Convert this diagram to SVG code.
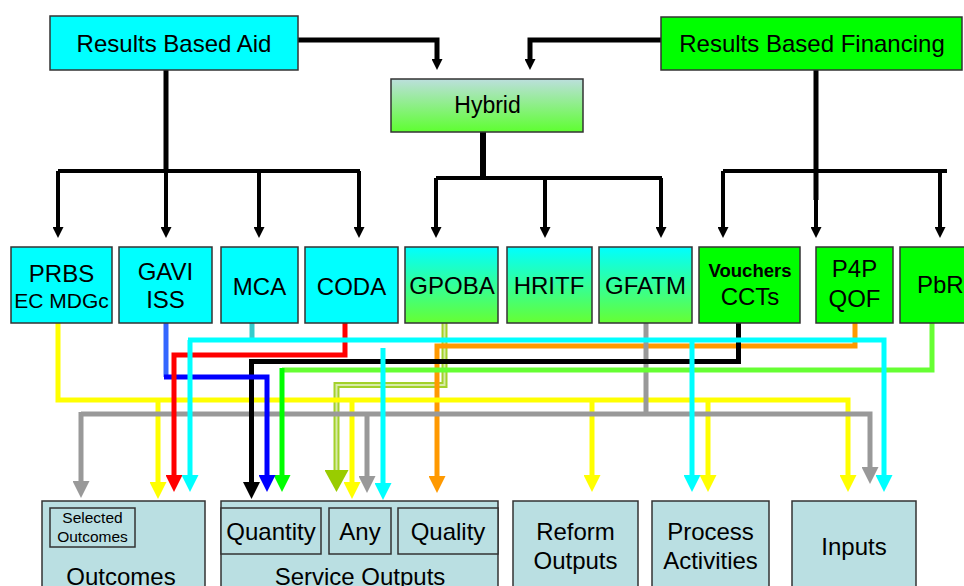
<svg xmlns="http://www.w3.org/2000/svg" width="964" height="586" viewBox="0 0 964 586">
<style>
text{font-family:"Liberation Sans",Arial,sans-serif;fill:#000;text-anchor:middle}
.t24{font-size:24px}
.t23{font-size:23px}
.box{stroke:#333;stroke-width:1.5}
.cy{fill:#00FFFF}
.gr{fill:#00FF00}
.lb{fill:#BADFE2}
.k{fill:none;stroke:#000}
.c{fill:none;stroke-width:5}
</style>
<defs>
<linearGradient id="gHyb" x1="0" y1="0" x2="0" y2="1"><stop offset="0" stop-color="#BCDFDD"/><stop offset="1" stop-color="#5EFF30"/></linearGradient>
<linearGradient id="gCG" x1="0" y1="0" x2="0" y2="1"><stop offset="0" stop-color="#00FFFF"/><stop offset="1" stop-color="#66FF33"/></linearGradient>
<marker id="mk" markerUnits="userSpaceOnUse" viewBox="0 0 11 11" markerWidth="11" markerHeight="11" refX="0" refY="5.5" orient="auto"><path d="M0,0L11,5.5L0,11z" fill="#000"/></marker>
<marker id="my" markerUnits="userSpaceOnUse" viewBox="0 0 17 17" markerWidth="17" markerHeight="17" refX="0" refY="8.5" orient="auto"><path d="M0,0L17,8.5L0,17z" fill="#FFFF00"/></marker>
<marker id="mg" markerUnits="userSpaceOnUse" viewBox="0 0 17 17" markerWidth="17" markerHeight="17" refX="0" refY="8.5" orient="auto"><path d="M0,0L17,8.5L0,17z" fill="#999999"/></marker>
<marker id="mc" markerUnits="userSpaceOnUse" viewBox="0 0 17 17" markerWidth="17" markerHeight="17" refX="0" refY="8.5" orient="auto"><path d="M0,0L17,8.5L0,17z" fill="#00FFFF"/></marker>
<marker id="mr" markerUnits="userSpaceOnUse" viewBox="0 0 17 17" markerWidth="17" markerHeight="17" refX="0" refY="8.5" orient="auto"><path d="M0,0L17,8.5L0,17z" fill="#FF0000"/></marker>
<marker id="mb" markerUnits="userSpaceOnUse" viewBox="0 0 17 17" markerWidth="17" markerHeight="17" refX="0" refY="8.5" orient="auto"><path d="M0,0L17,8.5L0,17z" fill="#0000FF"/></marker>
<marker id="mbk" markerUnits="userSpaceOnUse" viewBox="0 0 17 17" markerWidth="17" markerHeight="17" refX="0" refY="8.5" orient="auto"><path d="M0,0L17,8.5L0,17z" fill="#000"/></marker>
<marker id="mgn" markerUnits="userSpaceOnUse" viewBox="0 0 17 17" markerWidth="17" markerHeight="17" refX="0" refY="8.5" orient="auto"><path d="M0,0L17,8.5L0,17z" fill="#00FF00"/></marker>
<marker id="mo" markerUnits="userSpaceOnUse" viewBox="0 0 17 17" markerWidth="17" markerHeight="17" refX="0" refY="8.5" orient="auto"><path d="M0,0L17,8.5L0,17z" fill="#FF9900"/></marker>
<marker id="mol" markerUnits="userSpaceOnUse" viewBox="0 0 22 24" markerWidth="22" markerHeight="24" refX="0" refY="12" orient="auto"><path d="M0,0L22,12L0,24z" fill="#99CC00"/></marker>
</defs>

<g id="connectors">
  <!-- top black -->
  <path class="k" stroke-width="5" d="M298,40H437V59" marker-end="url(#mk)"/>
  <path class="k" stroke-width="5" d="M661,40H530V59" marker-end="url(#mk)"/>
  <path class="k" stroke-width="5" d="M166,70V171"/>
  <path class="k" stroke-width="4" d="M58,171H360"/>
  <path class="k" stroke-width="4" d="M58,171V227" marker-end="url(#mk)"/>
  <path class="k" stroke-width="4" d="M166,171V227" marker-end="url(#mk)"/>
  <path class="k" stroke-width="4" d="M259,171V227" marker-end="url(#mk)"/>
  <path class="k" stroke-width="4" d="M359,171V227" marker-end="url(#mk)"/>
  <path class="k" stroke-width="6" d="M483,132V178"/>
  <path class="k" stroke-width="4" d="M436,178H662"/>
  <path class="k" stroke-width="4" d="M436,178V227" marker-end="url(#mk)"/>
  <path class="k" stroke-width="4" d="M545,178V227" marker-end="url(#mk)"/>
  <path class="k" stroke-width="4" d="M661,178V227" marker-end="url(#mk)"/>
  <path class="k" stroke-width="5" d="M816,70V200"/>
  <path class="k" stroke-width="4" d="M723,171H947"/>
  <path class="k" stroke-width="4" d="M723,171V227" marker-end="url(#mk)"/>
  <path class="k" stroke-width="4" d="M816,199V227" marker-end="url(#mk)"/>
  <path class="k" stroke-width="4" d="M940,171V227" marker-end="url(#mk)"/>

  <!-- olive (GPOBA) double line -->
  <path fill="none" stroke="#A3D12A" stroke-width="6" d="M444.5,323V385H336.5V470" marker-end="url(#mol)"/>
  <path fill="none" stroke="#D8EBA6" stroke-width="2" d="M444.5,323V385H336.5V470"/>
  <!-- orange (P4P) -->
  <path class="c" stroke="#FF9900" d="M855,323V346H437V476" marker-end="url(#mo)"/>
  <!-- yellow (PRBS) -->
  <path class="c" stroke="#FFFF00" d="M58,323V400H848V475" marker-end="url(#my)"/>
  <path class="c" stroke="#FFFF00" d="M158,400V482" marker-end="url(#my)"/>
  <path class="c" stroke="#FFFF00" d="M352,400V482" marker-end="url(#my)"/>
  <path class="c" stroke="#FFFF00" d="M592,400V475" marker-end="url(#my)"/>
  <path class="c" stroke="#FFFF00" d="M708,400V475" marker-end="url(#my)"/>
  <!-- gray (GFATM) -->
  <path class="c" stroke="#999999" d="M646,323V414"/>
  <path class="c" stroke="#999999" d="M81,414H870V467" marker-end="url(#mg)"/>
  <path class="c" stroke="#999999" d="M81,412V481" marker-end="url(#mg)"/>
  <path class="c" stroke="#999999" d="M367,414V476" marker-end="url(#mg)"/>
  <!-- green (PbR) -->
  <path class="c" stroke="#66FF33" d="M932,323V370H282"/>
  <path class="c" stroke="#00FF00" d="M282,368V475" marker-end="url(#mgn)"/>
  <!-- black (Vouchers) -->
  <path class="c" stroke="#000" stroke-width="6" d="M738.5,323V361.5H251.5V482" marker-end="url(#mbk)"/>
  <!-- blue (GAVI) -->
  <path class="c" stroke="#3366FF" d="M166,323V377"/>
  <path class="c" stroke="#0000FF" d="M164,377H267V475" marker-end="url(#mb)"/>
  <!-- red (CODA) -->
  <path class="c" stroke="#FF0000" d="M345,323V355H174V475" marker-end="url(#mr)"/>
  <!-- cyan (MCA) -->
  <path class="c" stroke="#33CCCC" d="M252,323V338"/>
  <path class="c" stroke="#00FFFF" d="M190,340V475" marker-end="url(#mc)"/>
  <path class="c" stroke="#00FFFF" d="M188,340H884V475" marker-end="url(#mc)"/>
  <path class="c" stroke="#00FFFF" d="M692,340V475" marker-end="url(#mc)"/>
  <path class="c" stroke="#00FFFF" d="M383,348V483" marker-end="url(#mc)"/>
</g>

<g id="rba"><rect class="box cy" x="50" y="16" width="248" height="54"/><text class="t24" x="174" y="52">Results Based Aid</text></g>
<g id="rbf"><rect class="box gr" x="661" y="17" width="301" height="53"/><text class="t24" x="812" y="52">Results Based Financing</text></g>
<g id="hybrid"><rect class="box" fill="url(#gHyb)" x="391" y="79" width="192" height="53"/><text class="t23" x="487.5" y="113">Hybrid</text></g>

<g id="prbs"><rect class="box cy" x="11" y="247" width="101" height="76"/><text class="t24" x="61.5" y="282">PRBS</text><text x="61.5" y="308" font-size="21">EC MDGc</text></g>
<g id="gavi"><rect class="box cy" x="119" y="247" width="93" height="76"/><text class="t24" x="165.5" y="280">GAVI</text><text class="t24" x="165.5" y="308">ISS</text></g>
<g id="mca"><rect class="box cy" x="221" y="247" width="77" height="76"/><text class="t24" x="259.5" y="295">MCA</text></g>
<g id="coda"><rect class="box cy" x="305" y="247" width="93" height="76"/><text class="t24" x="351.5" y="295">CODA</text></g>
<g id="gpoba"><rect class="box" fill="url(#gCG)" x="405" y="247" width="93" height="76"/><text class="t24" x="452" y="294">GPOBA</text></g>
<g id="hritf"><rect class="box" fill="url(#gCG)" x="507" y="247" width="85" height="76"/><text class="t24" x="549" y="294">HRITF</text></g>
<g id="gfatm"><rect class="box" fill="url(#gCG)" x="599" y="247" width="93" height="76"/><text class="t24" x="645.5" y="294">GFATM</text></g>
<g id="vouchers"><rect class="box gr" x="699" y="247" width="101" height="76"/><text x="750" y="277" font-size="18.5" font-weight="bold">Vouchers</text><text class="t24" x="750" y="305">CCTs</text></g>
<g id="p4p"><rect class="box gr" x="816" y="247" width="77" height="76"/><text class="t24" x="854.5" y="277">P4P</text><text class="t24" x="854.5" y="307">QOF</text></g>
<g id="pbr"><rect class="box gr" x="900" y="247" width="80" height="76"/><text class="t24" x="917" y="293" style="text-anchor:start">PbR</text></g>

<g id="outcomes"><rect class="box lb" x="42" y="501" width="163" height="100"/><rect class="box lb" x="50" y="508" width="85" height="39"/><text x="92.5" y="523" font-size="15.5">Selected</text><text x="92.5" y="542" font-size="15.5">Outcomes</text><text class="t24" x="121" y="585">Outcomes</text></g>
<g id="service-outputs"><rect class="box lb" x="221" y="501" width="277" height="100"/><rect class="box lb" x="221" y="508" width="100" height="46"/><text class="t24" x="271" y="540">Quantity</text><rect class="box lb" x="329" y="508" width="62" height="46"/><text class="t24" x="360" y="540">Any</text><rect class="box lb" x="398" y="508" width="100" height="46"/><text class="t24" x="448" y="540">Quality</text><text class="t24" x="360" y="585">Service Outputs</text></g>
<g id="reform-outputs"><rect class="box lb" x="513" y="501" width="125" height="100"/><text class="t24" x="575.5" y="540">Reform</text><text class="t24" x="575.5" y="569">Outputs</text></g>
<g id="process-activities"><rect class="box lb" x="652" y="501" width="117" height="100"/><text class="t24" x="710.5" y="540">Process</text><text class="t24" x="710.5" y="569">Activities</text></g>
<g id="inputs"><rect class="box lb" x="792" y="501" width="124" height="100"/><text class="t24" x="854" y="555">Inputs</text></g>
</svg>
